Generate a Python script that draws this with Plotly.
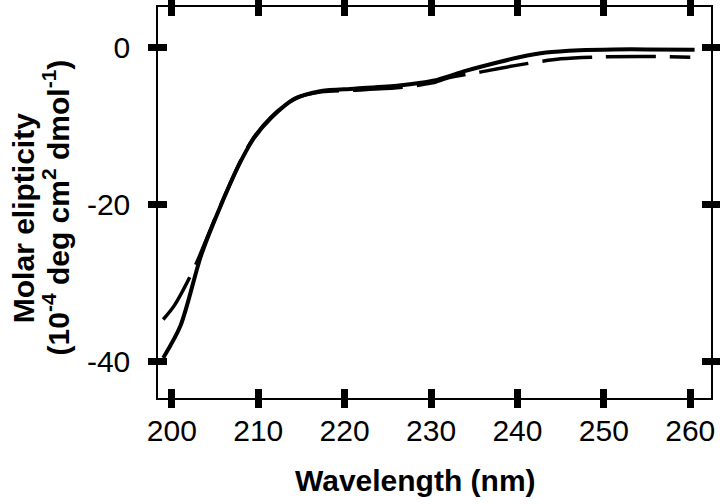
import plotly.graph_objects as go

# Solid curve (wavelength nm, molar ellipticity)
solid_wl = [199.0, 201.0, 203.4, 205.7, 208.0, 209.5, 211.5, 214.2, 217.3, 221.1,
            226.3, 230.2, 234.1, 237.9, 240.2, 243.3, 247.2, 251.1, 255.0, 260.5]
solid_val = [-39.6, -35.5, -26.5, -20.1, -14.5, -11.6, -9.0, -6.6, -5.6, -5.3,
             -4.9, -4.3, -3.0, -1.9, -1.3, -0.7, -0.4, -0.3, -0.3, -0.35]

# Dashed curve
dash_wl = [199.0, 200.3, 202.4, 203.4, 205.7, 208.0, 209.5, 211.5, 214.2, 217.3,
           221.0, 226.0, 230.0, 232.1, 235.6, 239.5, 245.0, 250.0, 255.0, 260.0]
dash_val = [-34.7, -32.9, -28.6, -26.1, -20.0, -14.4, -11.5, -8.9, -6.6, -5.7,
            -5.5, -5.2, -4.6, -3.9, -3.2, -2.4, -1.5, -1.25, -1.2, -1.3]

x_ticks = [200, 210, 220, 230, 240, 250, 260]
x_tick_labels = ["200", "210", "220", "230", "240", "250", "260"]
y_ticks = [0, -20, -40]
y_tick_labels = ["0", "-20", "-40"]
x_range = [198.4, 262.4]
y_range = [-44.7, 5.1]

x_title = "<b>Wavelength (nm)</b>"
y_title_1 = "<b>Molar elipticity</b>"
y_title_2 = "<b>(10<sup>-4</sup> deg cm<sup>2</sup> dmol<sup>-1</sup>)</b>"

fig = go.Figure()
fig.add_trace(go.Scatter(x=dash_wl, y=dash_val, mode="lines",
                         line=dict(color="black", width=3.5, dash="50px,14px",
                                   shape="spline", smoothing=0.8),
                         showlegend=False, hoverinfo="skip"))
fig.add_trace(go.Scatter(x=solid_wl, y=solid_val, mode="lines",
                         line=dict(color="black", width=4, shape="spline", smoothing=0.8),
                         showlegend=False, hoverinfo="skip"))
# invisible trace on overlay axes so outward ticks are drawn
fig.add_trace(go.Scatter(x=[solid_wl[0]], y=[solid_val[0]], mode="lines",
                         xaxis="x2", yaxis="y2", line=dict(color="rgba(0,0,0,0)"),
                         showlegend=False, hoverinfo="skip"))

font_family = "Liberation Sans, Arial, sans-serif"

fig.update_layout(
    width=720, height=504,
    margin=dict(l=158, r=9, t=7, b=106),
    paper_bgcolor="white", plot_bgcolor="white",
    font=dict(family=font_family, color="black", size=30),
    xaxis=dict(range=x_range, tickvals=x_ticks, ticktext=x_tick_labels,
               ticks="inside", ticklen=9, automargin=False,
               tickwidth=7, tickcolor="black", showline=True, linecolor="black",
               linewidth=1.5, mirror="ticks", showgrid=False, zeroline=False,
               ticklabelstandoff=5, tickfont=dict(size=30)),
    yaxis=dict(range=y_range, tickvals=y_ticks, ticktext=y_tick_labels,
               ticks="inside", ticklen=9, automargin=False,
               tickwidth=7, tickcolor="black", showline=True, linecolor="black",
               linewidth=1.5, mirror="ticks", showgrid=False, zeroline=False,
               ticklabelstandoff=20, tickfont=dict(size=30)),
    xaxis2=dict(range=x_range, tickvals=x_ticks, ticks="outside", ticklen=9,
                tickwidth=7, tickcolor="black", showline=False, mirror="ticks",
                showticklabels=False, showgrid=False, zeroline=False,
                overlaying="x", anchor="y2", side="bottom"),
    yaxis2=dict(range=y_range, tickvals=y_ticks, ticks="outside", ticklen=9,
                tickwidth=7, tickcolor="black", showline=False, mirror="ticks",
                showticklabels=False, showgrid=False, zeroline=False,
                overlaying="y", anchor="x2", side="left"),
    annotations=[
        dict(text=x_title, xref="paper", yref="paper", x=0.465, y=-0.21,
             xanchor="center", yanchor="middle", showarrow=False,
             font=dict(size=30)),
        dict(text=y_title_1, xref="paper", yref="paper", x=-0.244, y=0.46,
             xanchor="center", yanchor="middle", showarrow=False, textangle=-90,
             font=dict(size=30)),
        dict(text=y_title_2, xref="paper", yref="paper", x=-0.184, y=0.488,
             xanchor="center", yanchor="middle", showarrow=False, textangle=-90,
             font=dict(size=30)),
    ],
)

fig.write_html("out.html", config={"displayModeBar": False},
               post_script="document.body.style.margin='0px';")
